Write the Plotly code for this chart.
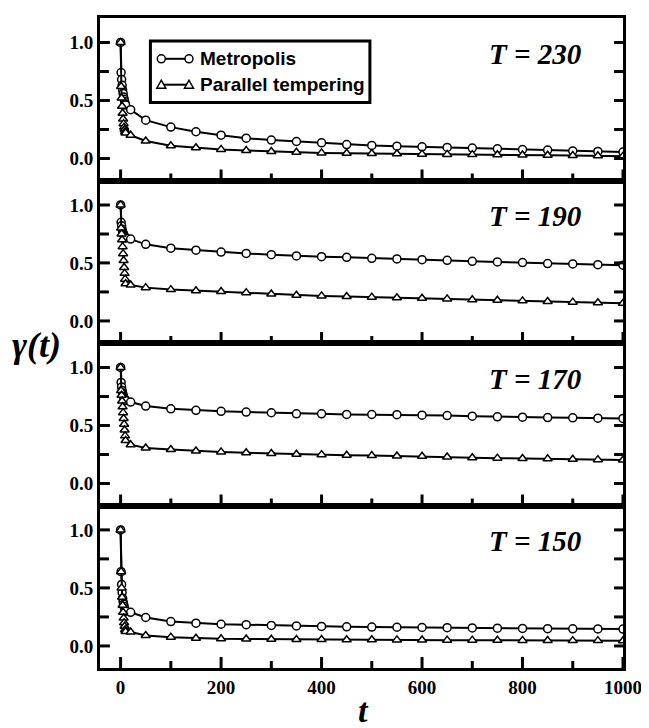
import plotly.graph_objects as go
from plotly.subplots import make_subplots

# ---- data ----
t = [0, 1, 2, 3, 4, 5, 6, 7, 8, 9, 10, 20, 50, 100, 150, 200, 250, 300, 350, 400,
     450, 500, 550, 600, 650, 700, 750, 800, 850, 900, 950, 1000]

temps = ["230", "190", "170", "150"]

metro_230 = [1.0, 0.74, 0.68, 0.63, 0.59, 0.56, 0.53, 0.51, 0.49, 0.47, 0.46, 0.42, 0.33, 0.27,
             0.23, 0.20, 0.175, 0.158, 0.146, 0.135, 0.12, 0.112, 0.106, 0.10, 0.095, 0.089,
             0.083, 0.077, 0.072, 0.065, 0.06, 0.055]
pt_230 = [1.0, 0.62, 0.52, 0.45, 0.39, 0.34, 0.30, 0.27, 0.25, 0.23, 0.22, 0.20, 0.15, 0.11,
          0.092, 0.078, 0.068, 0.06, 0.053, 0.048, 0.045, 0.042, 0.04, 0.037, 0.035, 0.033,
          0.031, 0.029, 0.027, 0.025, 0.023, 0.02]

metro_190 = [1.0, 0.85, 0.82, 0.79, 0.77, 0.755, 0.745, 0.735, 0.725, 0.72, 0.715, 0.705, 0.66,
             0.627, 0.61, 0.593, 0.582, 0.571, 0.56, 0.554, 0.548, 0.54, 0.534, 0.528, 0.522,
             0.514, 0.508, 0.503, 0.494, 0.491, 0.485, 0.48]
pt_190 = [1.0, 0.80, 0.75, 0.70, 0.64, 0.58, 0.52, 0.46, 0.41, 0.36, 0.32, 0.31, 0.287, 0.27,
          0.26, 0.253, 0.244, 0.232, 0.222, 0.216, 0.211, 0.205, 0.20, 0.195, 0.19, 0.183,
          0.178, 0.173, 0.167, 0.162, 0.157, 0.152]

metro_170 = [1.0, 0.87, 0.83, 0.80, 0.78, 0.76, 0.745, 0.735, 0.725, 0.72, 0.715, 0.701, 0.667,
             0.643, 0.63, 0.621, 0.615, 0.609, 0.60, 0.60, 0.595, 0.594, 0.592, 0.588, 0.585,
             0.58, 0.574, 0.571, 0.568, 0.565, 0.562, 0.56]
pt_170 = [1.0, 0.80, 0.76, 0.71, 0.66, 0.61, 0.56, 0.51, 0.46, 0.41, 0.37, 0.334, 0.306, 0.293,
          0.28, 0.272, 0.265, 0.258, 0.251, 0.248, 0.243, 0.24, 0.237, 0.234, 0.228, 0.222,
          0.218, 0.215, 0.212, 0.208, 0.205, 0.202]

metro_150 = [1.0, 0.64, 0.53, 0.46, 0.41, 0.38, 0.36, 0.34, 0.32, 0.31, 0.30, 0.29, 0.245, 0.21,
             0.196, 0.187, 0.183, 0.177, 0.172, 0.168, 0.165, 0.163, 0.161, 0.159, 0.157, 0.155,
             0.153, 0.151, 0.149, 0.148, 0.147, 0.145]
pt_150 = [1.0, 0.64, 0.50, 0.42, 0.35, 0.29, 0.24, 0.20, 0.17, 0.14, 0.125, 0.12, 0.09, 0.076,
          0.067, 0.062, 0.06, 0.058, 0.056, 0.055, 0.054, 0.053, 0.052, 0.051, 0.05, 0.05,
          0.049, 0.048, 0.047, 0.046, 0.046, 0.045]

metro_series = [metro_230, metro_190, metro_170, metro_150]
pt_series = [pt_230, pt_190, pt_170, pt_150]

legend_names = ["Metropolis", "Parallel tempering"]

y_tickvals = [0.0, 0.5, 1.0]
y_minor_tickvals = [0.25, 0.75]
x_tickvals = [0, 200, 400, 600, 800, 1000]
x_minor_tickvals = [100, 300, 500, 700, 900]

X_RANGE = [-41, 1000]
Y_RANGE = [-0.19, 1.21]

SERIF = "Liberation Serif, Times New Roman, serif"
SANS = "Liberation Sans, Arial, sans-serif"

# figure geometry (page body adds an 8px offset)
W, H = 641, 720
ML, MR, MT, MB = 92, 20, 7, 60
PW, PH = W - ML - MR, H - MT - MB
PX_PER_X = PW / (X_RANGE[1] - X_RANGE[0])
PX_PER_Y = (PH / 4) / (Y_RANGE[1] - Y_RANGE[0])


def px_x(x):
    return (x - 8 - ML) / PW


def px_y(y):
    return 1 - (y - 8 - MT) / PH


# inward tick marks, built from the tick value arrays (drawn as line traces)
def tick_traces():
    xs, ys = [], []
    for vals, ln in ((x_tickvals, 11), (x_minor_tickvals, 7)):
        for v in vals:
            xs += [v, v, None]
            ys += [Y_RANGE[0], Y_RANGE[0] + ln / PX_PER_Y, None]
    for vals, ln in ((y_tickvals, 10), (y_minor_tickvals, 9)):
        for v in vals:
            xs += [X_RANGE[0], X_RANGE[0] + ln / PX_PER_X, None]
            ys += [v, v, None]
            xs += [X_RANGE[1], X_RANGE[1] - 9 / PX_PER_X, None]
            ys += [v, v, None]
    return xs, ys


fig = make_subplots(rows=4, cols=1, shared_xaxes=True, vertical_spacing=0)
tx, ty = tick_traces()

for i, (temp, m, p) in enumerate(zip(temps, metro_series, pt_series)):
    row = i + 1
    fig.add_trace(go.Scatter(
        x=t, y=m, mode="lines+markers", name=legend_names[0],
        line=dict(color="black", width=2),
        marker=dict(symbol="circle", size=8, color="white", line=dict(color="black", width=1.5)),
        showlegend=False), row=row, col=1)
    fig.add_trace(go.Scatter(
        x=t, y=p, mode="lines+markers", name=legend_names[1],
        line=dict(color="black", width=2),
        marker=dict(symbol="triangle-up", size=8, color="white", line=dict(color="black", width=1.5)),
        showlegend=False), row=row, col=1)
    fig.add_trace(go.Scatter(
        x=tx, y=ty, mode="lines", line=dict(color="black", width=3),
        connectgaps=False, cliponaxis=False,
        hoverinfo="skip", showlegend=False), row=row, col=1)
    suffix = "" if row == 1 else str(row)
    fig.add_annotation(
        x=825, y=0.9, xref="x" + suffix, yref="y" + suffix,
        text="T = " + temp, showarrow=False, xanchor="center", yanchor="middle",
        font=dict(family=SERIF, size=29, color="black", weight="bold", style="italic"))

fig.update_xaxes(
    range=X_RANGE, showline=True, linewidth=3, linecolor="black", mirror=True,
    ticks="", tickvals=x_tickvals, showgrid=False, zeroline=False,
    tickfont=dict(family=SERIF, size=19, color="black", weight="bold"))

fig.update_yaxes(
    range=Y_RANGE, showline=True, linewidth=3, linecolor="black", mirror=True,
    ticks="", tickvals=y_tickvals, tickformat=".1f", showgrid=False, zeroline=False,
    tickfont=dict(family=SERIF, size=19, color="black", weight="bold"))

# axis titles
fig.add_annotation(x=px_x(36), y=px_y(344), xref="paper", yref="paper", text="γ(t)", showarrow=False,
                   xanchor="center", yanchor="middle",
                   font=dict(family=SERIF, size=36, color="black", weight="bold", style="italic"))
fig.add_annotation(x=px_x(367), y=px_y(711), xref="paper", yref="paper", text="t", showarrow=False,
                   xanchor="center", yanchor="middle",
                   font=dict(family=SERIF, size=34, color="black", weight="bold", style="italic"))

# manual legend (markers at both ends of the sample line)
shapes = [dict(type="rect", xref="paper", yref="paper",
               x0=px_x(151), x1=px_x(373), y0=px_y(100), y1=px_y(38),
               line=dict(color="black", width=3), fillcolor="white", layer="above")]
rows_y = [56, 82]
for k, yy in enumerate(rows_y):
    shapes.append(dict(type="line", xref="paper", yref="paper",
                       x0=px_x(162), x1=px_x(190), y0=px_y(yy), y1=px_y(yy),
                       line=dict(color="black", width=2), layer="above"))
    for xx in (162, 190):
        if k == 0:
            shapes.append(dict(type="circle", xref="paper", yref="paper",
                               xsizemode="pixel", ysizemode="pixel",
                               xanchor=px_x(xx), yanchor=px_y(yy),
                               x0=-4, x1=4, y0=-4, y1=4,
                               line=dict(color="black", width=1.5), fillcolor="white", layer="above"))
        else:
            shapes.append(dict(type="path", xref="paper", yref="paper",
                               xsizemode="pixel", ysizemode="pixel",
                               xanchor=px_x(xx), yanchor=px_y(yy),
                               path="M -4.5,-3.5 L 4.5,-3.5 L 0,4.5 Z",
                               line=dict(color="black", width=1.5), fillcolor="white", layer="above"))
    fig.add_annotation(x=px_x(199), y=px_y(yy), xref="paper", yref="paper",
                       text=legend_names[k], showarrow=False, xanchor="left", yanchor="middle",
                       font=dict(family=SANS, size=19, color="black", weight="bold"))

fig.update_layout(
    width=W, height=H,
    margin=dict(l=ML, r=MR, t=MT, b=MB),
    paper_bgcolor="white", plot_bgcolor="white",
    showlegend=False,
    shapes=shapes,
)

fig.write_html("out.html")
